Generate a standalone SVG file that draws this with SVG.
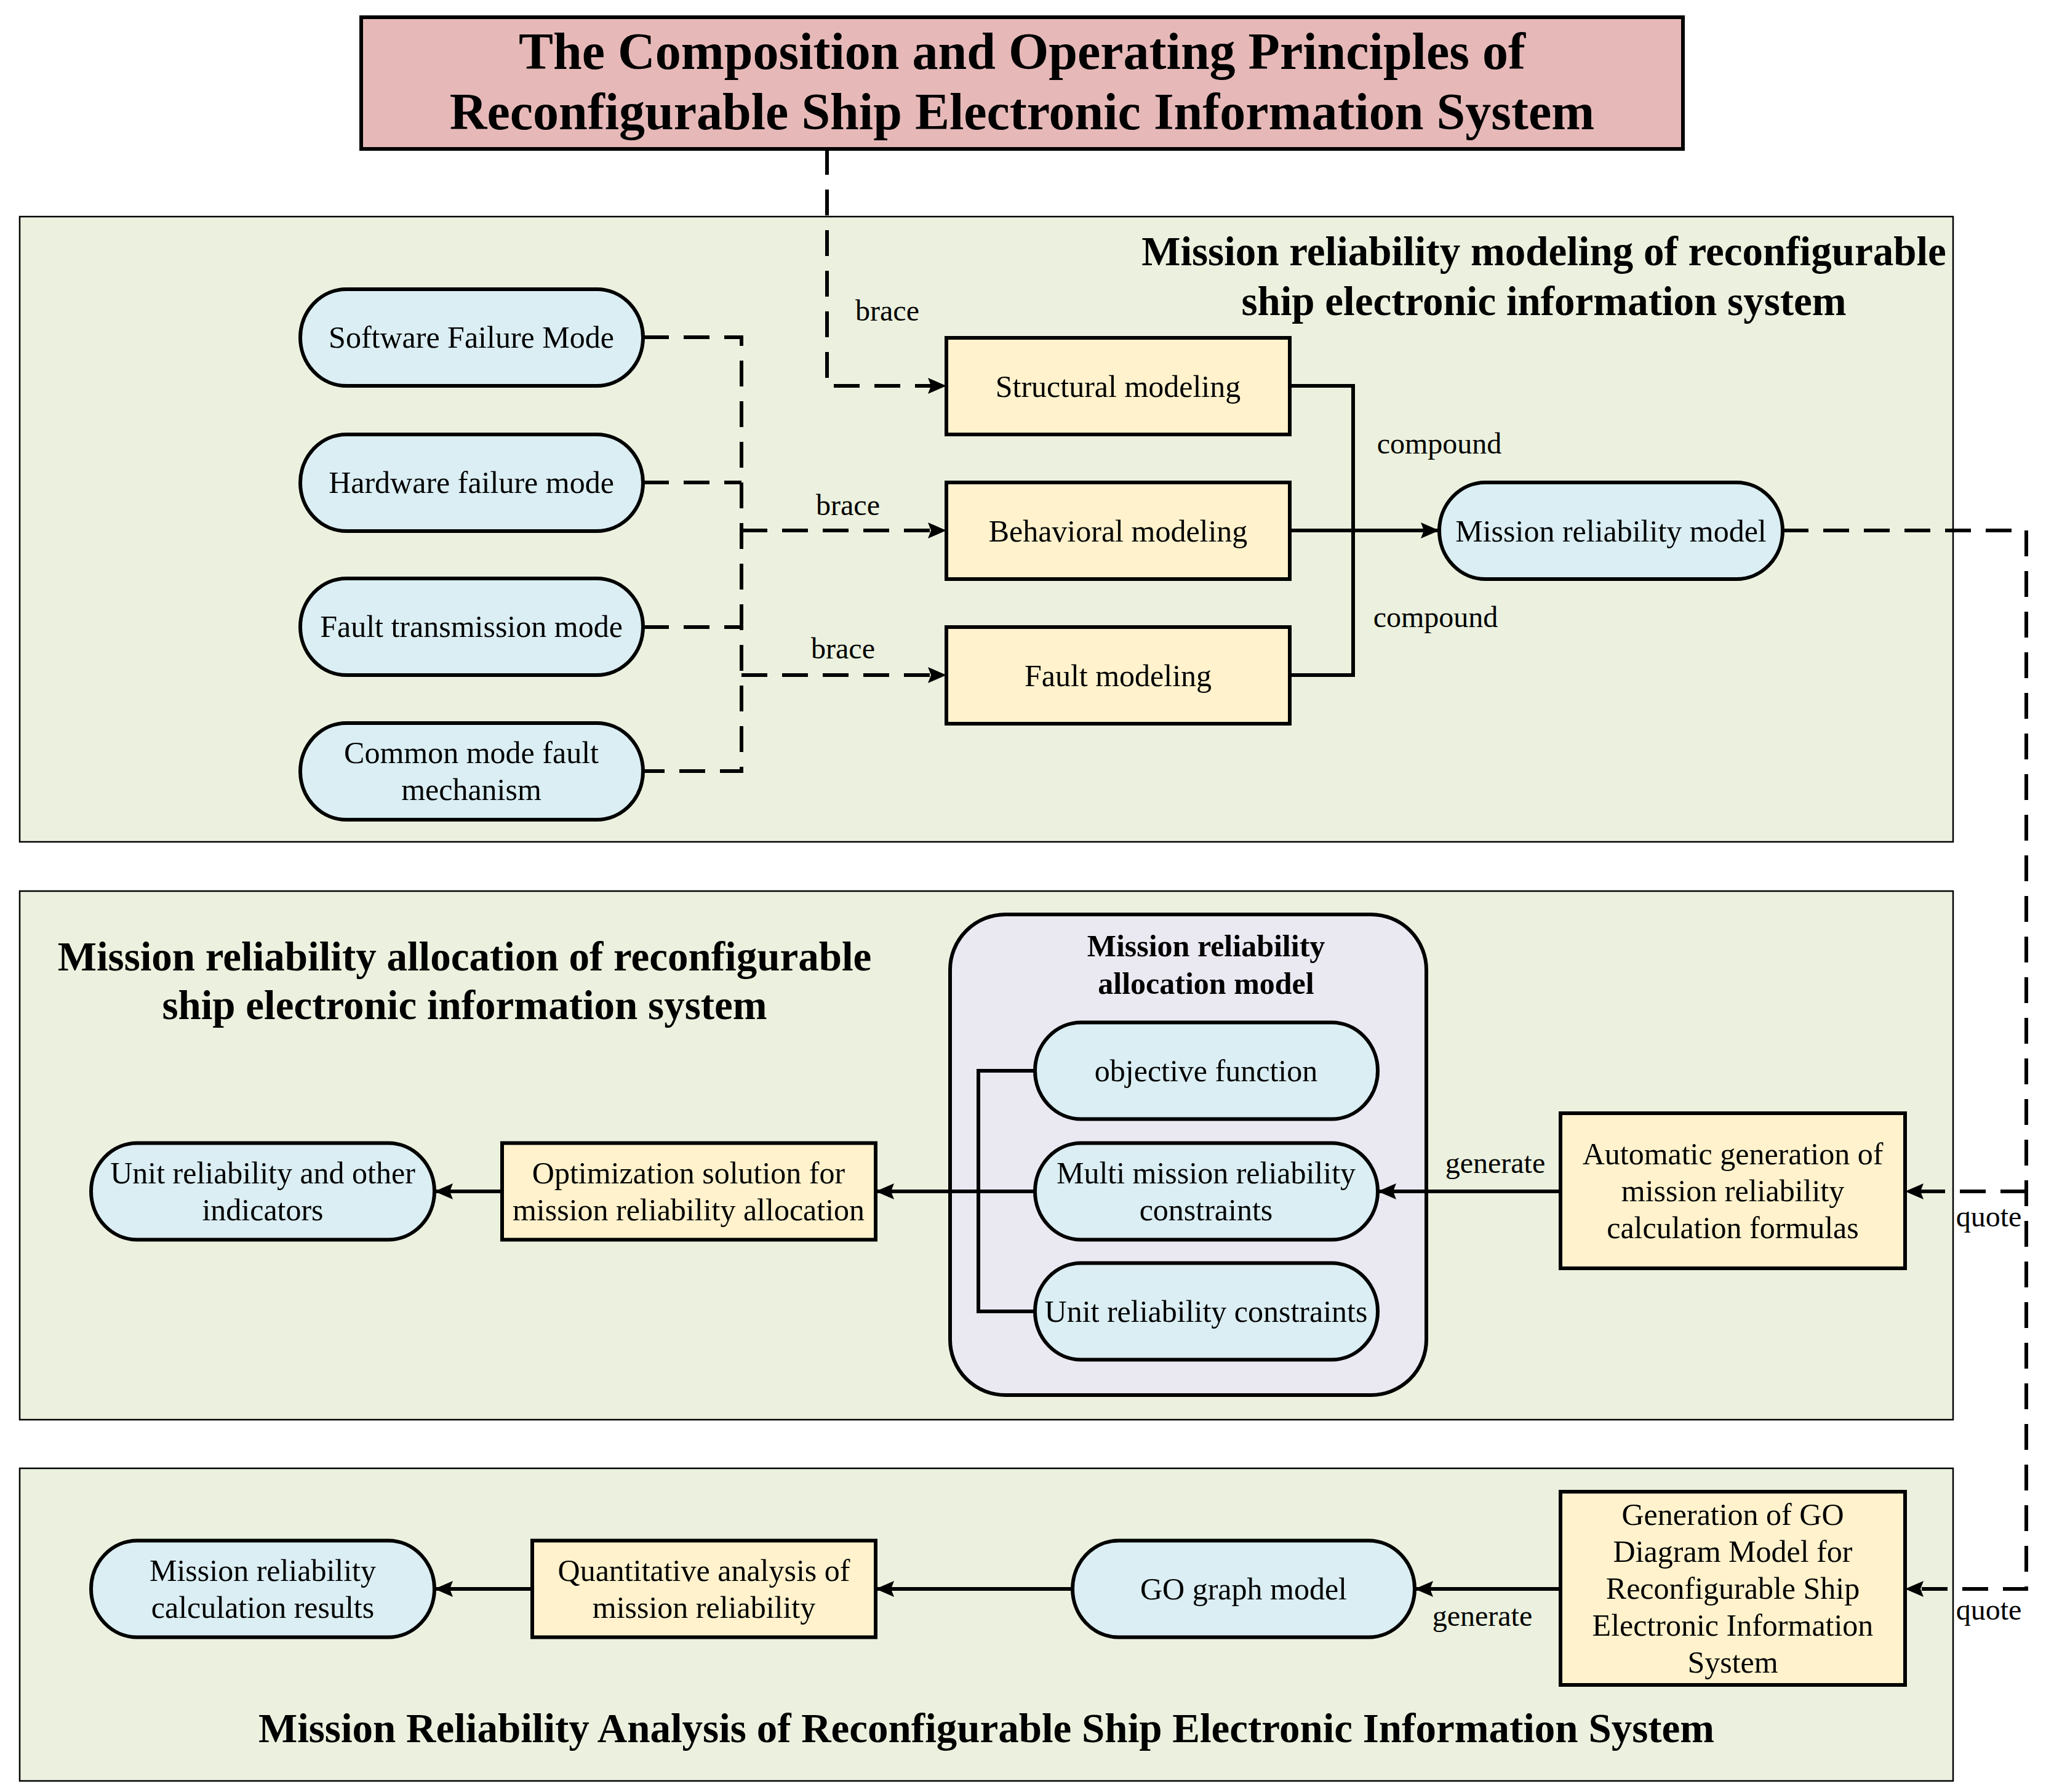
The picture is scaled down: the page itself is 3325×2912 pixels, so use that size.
<svg xmlns="http://www.w3.org/2000/svg" width="3325" height="2912" viewBox="0 0 3325 2912">
<defs>
<style>
text { font-family: "Liberation Serif", "Times New Roman", serif; fill: #000; }
.t { font-size: 50px; text-anchor: middle; }
.lbl { font-size: 48px; text-anchor: middle; }
.h { font-size: 67px; font-weight: bold; text-anchor: middle; }
.hs { font-size: 50px; font-weight: bold; text-anchor: middle; }
.panel { fill: #EBF1DE; stroke: #000; stroke-width: 2.5; }
.blue { fill: #DAEEF3; stroke: #000; stroke-width: 6; }
.yel { fill: #FFF2CC; stroke: #000; stroke-width: 6; }
.solid { fill: none; stroke: #000; stroke-width: 6; }
.dash { fill: none; stroke: #000; stroke-width: 6; stroke-dasharray: 42 24; }
</style>
<marker id="arr" markerUnits="userSpaceOnUse" markerWidth="32" markerHeight="30" refX="30" refY="15" orient="auto">
<path d="M0,2 L30,15 L0,28 L5,15 z" fill="#000"/>
</marker>
</defs>
<rect x="0" y="0" width="3325" height="2912" fill="#fff"/>

<g id="panels">
<rect class="panel" x="32" y="352" width="3142" height="1016"/>
<rect class="panel" x="32" y="1448" width="3142" height="859"/>
<rect class="panel" x="32" y="2386" width="3142" height="508"/>
<text class="h" x="2509" y="431">Mission reliability modeling of reconfigurable</text>
<text class="h" x="2509" y="512">ship electronic information system</text>
<text class="h" x="755" y="1577">Mission reliability allocation of reconfigurable</text>
<text class="h" x="755" y="1656">ship electronic information system</text>
<text class="h" x="1603" y="2831">Mission Reliability Analysis of Reconfigurable Ship Electronic Information System</text>
</g>

<g id="title">
<rect x="587" y="28" width="2148" height="214" fill="#E6B9B8" stroke="#000" stroke-width="6"/>
<text x="1661" y="112" font-size="84" font-weight="bold" text-anchor="middle">The Composition and Operating Principles of</text>
<text x="1661" y="210" font-size="84" font-weight="bold" text-anchor="middle">Reconfigurable Ship Electronic Information System</text>
</g>

<g id="alloc-model">
<rect x="1544" y="1486" width="774" height="781" rx="90" ry="90" fill="#EAE8F1" stroke="#000" stroke-width="6"/>
<text class="hs" x="1960" y="1554">Mission reliability</text>
<text class="hs" x="1960" y="1615">allocation model</text>
</g>

<g id="connectors">
<path class="dash" d="M1344,242 V627 H1538" marker-end="url(#arr)"/>
<path class="dash" d="M1045,548 H1205 V1253 H1045"/>
<path class="dash" d="M1045,784 H1205"/>
<path class="dash" d="M1045,1019 H1205"/>
<path class="dash" d="M1205,862 H1538" marker-end="url(#arr)"/>
<path class="dash" d="M1205,1097 H1538" marker-end="url(#arr)"/>
<path class="solid" d="M2096,627 H2199 V1097 H2096"/>
<path class="solid" d="M2096,862 H2339" marker-end="url(#arr)"/>
<path class="dash" d="M2897,862 H3293 V2582 H3096" marker-end="url(#arr)"/>
<path class="dash" d="M3293,1936 H3096" marker-end="url(#arr)"/>
<path class="solid" d="M1682,1740 H1590 V2131 H1682"/>
<path class="solid" d="M1682,1936 H1423" marker-end="url(#arr)"/>
<path class="solid" d="M816,1936 H706" marker-end="url(#arr)"/>
<path class="solid" d="M2536,1936 H2239" marker-end="url(#arr)"/>
<path class="solid" d="M2536,2582 H2299" marker-end="url(#arr)"/>
<path class="solid" d="M1743,2582 H1423" marker-end="url(#arr)"/>
<path class="solid" d="M865,2582 H706" marker-end="url(#arr)"/>
<text class="lbl" x="1442" y="521">brace</text>
<text class="lbl" x="1378" y="837">brace</text>
<text class="lbl" x="1370" y="1070">brace</text>
<text class="lbl" x="2339" y="737">compound</text>
<text class="lbl" x="2333" y="1019">compound</text>
<text class="lbl" x="2430" y="1906">generate</text>
<text class="lbl" x="3232" y="1993">quote</text>
<text class="lbl" x="2409" y="2642">generate</text>
<text class="lbl" x="3232" y="2632">quote</text>
</g>

<g id="software-failure-mode">
<rect class="blue" x="488" y="470" width="557" height="157" rx="75" ry="78.5"/>
<text class="t" x="766" y="565">Software Failure Mode</text>
</g>
<g id="hardware-failure-mode">
<rect class="blue" x="488" y="706" width="557" height="157" rx="75" ry="78.5"/>
<text class="t" x="766" y="801">Hardware failure mode</text>
</g>
<g id="fault-transmission-mode">
<rect class="blue" x="488" y="940" width="557" height="157" rx="75" ry="78.5"/>
<text class="t" x="766" y="1035">Fault transmission mode</text>
</g>
<g id="common-mode-fault">
<rect class="blue" x="488" y="1175" width="557" height="157" rx="75" ry="78.5"/>
<text class="t" x="766" y="1240">Common mode fault</text>
<text class="t" x="766" y="1300">mechanism</text>
</g>

<g id="structural-modeling">
<rect class="yel" x="1538" y="549" width="558" height="157"/>
<text class="t" x="1817" y="645">Structural modeling</text>
</g>
<g id="behavioral-modeling">
<rect class="yel" x="1538" y="784" width="558" height="157"/>
<text class="t" x="1817" y="880">Behavioral modeling</text>
</g>
<g id="fault-modeling">
<rect class="yel" x="1538" y="1019" width="558" height="157"/>
<text class="t" x="1817" y="1115">Fault modeling</text>
</g>
<g id="mission-reliability-model">
<rect class="blue" x="2339" y="784" width="558" height="157" rx="75" ry="78.5"/>
<text class="t" x="2618" y="880">Mission reliability model</text>
</g>

<g id="objective-function">
<rect class="blue" x="1682" y="1661.5" width="557" height="157" rx="75" ry="78.5"/>
<text class="t" x="1960" y="1757">objective function</text>
</g>
<g id="multi-mission-constraints">
<rect class="blue" x="1682" y="1857.5" width="557" height="157" rx="75" ry="78.5"/>
<text class="t" x="1960" y="1923">Multi mission reliability</text>
<text class="t" x="1960" y="1983">constraints</text>
</g>
<g id="unit-reliability-constraints">
<rect class="blue" x="1682" y="2052.5" width="557" height="157" rx="75" ry="78.5"/>
<text class="t" x="1960" y="2148">Unit reliability constraints</text>
</g>
<g id="optimization-solution">
<rect class="yel" x="816" y="1857.5" width="607" height="157"/>
<text class="t" x="1119" y="1923">Optimization solution for</text>
<text class="t" x="1119" y="1983">mission reliability allocation</text>
</g>
<g id="unit-reliability-indicators">
<rect class="blue" x="148" y="1857.5" width="558" height="157" rx="75" ry="78.5"/>
<text class="t" x="427" y="1923">Unit reliability and other</text>
<text class="t" x="427" y="1983">indicators</text>
</g>
<g id="automatic-generation">
<rect class="yel" x="2536" y="1809" width="560" height="252"/>
<text class="t" x="2816" y="1892">Automatic generation of</text>
<text class="t" x="2816" y="1952">mission reliability</text>
<text class="t" x="2816" y="2012">calculation formulas</text>
</g>

<g id="calculation-results">
<rect class="blue" x="148" y="2503.5" width="558" height="157" rx="75" ry="78.5"/>
<text class="t" x="427" y="2569">Mission reliability</text>
<text class="t" x="427" y="2629">calculation results</text>
</g>
<g id="quantitative-analysis">
<rect class="yel" x="865" y="2503.5" width="558" height="157"/>
<text class="t" x="1144" y="2569">Quantitative analysis of</text>
<text class="t" x="1144" y="2629">mission reliability</text>
</g>
<g id="go-graph-model">
<rect class="blue" x="1743" y="2503.5" width="556" height="157" rx="75" ry="78.5"/>
<text class="t" x="2021" y="2599">GO graph model</text>
</g>
<g id="go-diagram-generation">
<rect class="yel" x="2536" y="2424" width="560" height="314"/>
<text class="t" x="2816" y="2478">Generation of GO</text>
<text class="t" x="2816" y="2538">Diagram Model for</text>
<text class="t" x="2816" y="2598">Reconfigurable Ship</text>
<text class="t" x="2816" y="2658">Electronic Information</text>
<text class="t" x="2816" y="2718">System</text>
</g>
</svg>
